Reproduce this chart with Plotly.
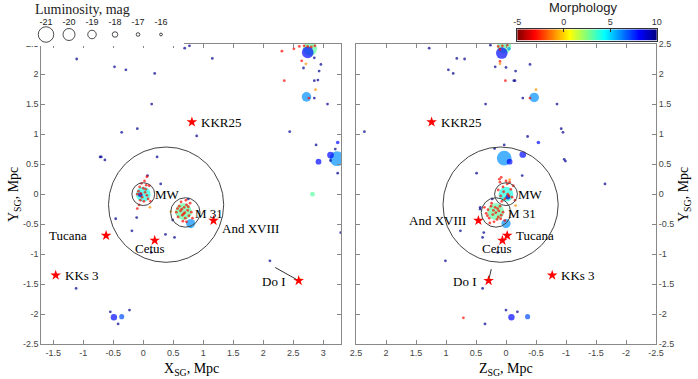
import numpy as np
import plotly.graph_objects as go

# ---------------- data (Mpc, supergalactic) ----------------
# bright galaxies, X-Y projection
xy_bright_x = [0.00, -0.05, 0.67, 0.79, 2.78, 2.74, 2.72, 3.23, 3.12, 2.92, 3.24, 2.82, -0.49, -0.36]
xy_bright_y = [0.00, -0.01, -0.29, -0.49, 2.42, 2.36, 1.62, 0.59, 0.65, 0.54, 0.86, 0.00, -2.05, -2.04]
xy_bright_mag = [-20.8, -17.6, -21.5, -19.2, -20.6, -19.9, -19.3, -20.8, -18.4, -18.1, -17.0, -17.6, -18.3, -17.8]
xy_bright_morph = [4, 9, 3, 6, 3, 8, 6, 6, 8, 8, 8, 3, 8, 7]

# bright galaxies, Z-Y projection
zy_bright_z = [0.00, -0.03, 0.17, 0.00, 0.03, 0.07, -0.05, -0.47, 0.03, -0.06, -0.28, -0.54, -0.09, -0.36]
zy_bright_y = [0.00, -0.05, -0.29, -0.49, 2.46, 2.35, 2.42, 1.61, 0.60, 0.54, 0.66, 0.86, -2.05, -2.04]
zy_bright_mag = [-20.8, -17.6, -21.5, -19.2, -20.6, -19.9, -16.8, -19.3, -20.8, -18.1, -18.4, -17.0, -18.3, -17.8]
zy_bright_morph = [4, 9, 3, 6, 3, 8, 6, 6, 6, 8, 8, 8, 8, 7]

# faint dwarfs: irregulars (blue), spheroidals (red), transition (orange)
DWARF_MAG = -12
IRR_T, SPH_T, TR_T = 9.8, -3, -1

xy_irr_x = [-1.11, -0.48, -0.29, 0.19, 0.69, 0.77, 1.15, 0.14, -0.36, -0.10, 0.89, -0.72, -0.70,
            -0.64, 0.23, 0.07, 0.29, -0.46, -0.11, -0.19, 0.37, 0.52, 0.13, 0.75, 0.49, -1.12,
            -0.55, -0.23, -0.42, 2.11, 2.44, 2.88, 3.20, 3.24, 3.29, 3.07, 2.85, 2.85, 2.91,
            2.93, 2.96, 2.67, 2.85, 3.12]
xy_irr_y = [2.25, 2.12, 2.07, 2.01, 2.43, 2.47, 2.26, 1.50, 1.03, 1.09, 0.97, 0.62, 0.62,
            0.57, 0.62, 0.31, 0.17, -0.41, -0.39, -0.61, -0.67, -0.72, -0.97, -0.08, -0.43, -1.57,
            -1.96, -1.93, -2.16, -1.11, 1.04, 0.82, 0.75, 0.35, -0.64, 1.50, 1.60, 1.89, 1.90,
            2.05, 2.16, 2.10, 2.27, 0.56]
xy_sph_x = [2.31, 2.51, 2.60, 2.68, 2.74, 2.80, 2.86, 2.64, 2.35, 2.76,
            -0.06, -0.03, 0.02, 0.05, -0.08, 0.04, -0.02, 0.06, -0.05, 0.01, 0.08, -0.10,
            0.03, -0.04, 0.10, -0.07, 0.12, -0.10, 0.06, 0.00,
            0.60, 0.62, 0.65, 0.68, 0.72, 0.74, 0.76, 0.70, 0.66, 0.58, 0.55, 0.80, 0.78,
            0.63, 0.72, 0.82, 0.69, 0.64, 0.75, 0.57, 0.67, 0.71]
xy_sph_y = [2.38, 2.42, 2.46, 2.47, 2.46, 2.45, 2.47, 2.22, 1.89, 1.60,
            0.12, 0.18, 0.22, 0.15, 0.05, 0.08, -0.05, -0.02, -0.10, -0.12, -0.08, 0.00,
            0.03, 0.01, 0.14, -0.18, -0.12, -0.24, 0.29, 0.10,
            -0.20, -0.28, -0.35, -0.22, -0.18, -0.27, -0.36, -0.40, -0.45, -0.38, -0.30, -0.30, -0.15,
            -0.13, -0.46, -0.40, -0.31, -0.25, -0.21, -0.24, -0.33, -0.10]
xy_tr_x = [2.71, 2.87, 0.46, 0.11, 2.62]
xy_tr_y = [2.17, 1.74, -0.29, -0.22, -1.42]

zy_irr_z = [1.28, 0.26, 0.82, 0.69, 0.96, 0.88, 0.18, 0.00, -0.16, -0.40, -0.13, -0.15, -0.28,
            0.34, -0.85, 2.36, -0.92, -0.95, -0.36, 0.19, 0.03, -0.97, -0.99, 0.49, -0.27,
            -1.65, 0.43, 0.43, 0.23, 0.76, 0.37, 0.39, 0.14, 1.01, 0.39, 0.00, -0.19, 0.35]
zy_irr_y = [2.43, 2.48, 2.26, 2.25, 2.07, 2.01, 2.12, 2.11, 2.05, 2.16, 1.89, 1.89, 1.60,
            1.50, 1.50, 1.04, 1.09, 1.03, 0.96, 0.76, 0.82, 0.58, 0.55, 0.35, 0.31,
            0.17, -0.22, -0.25, -0.08, -0.61, -0.64, -0.72, -0.97, -1.11, -1.57, -1.93, -1.96, -2.16]
zy_sph_z = [0.10, 0.01, -0.40, 0.71, 0.06, -0.02, 0.10, 0.13,
            0.05, -0.02, 0.10, -0.08, 0.04, -0.05, 0.02, -0.10, 0.07, -0.03, 0.13, -0.12,
            0.00, -0.06, 0.09, -0.15, 0.08, 0.11,
            0.25, 0.30, 0.22, 0.18, 0.12, 0.08, 0.15, 0.28, 0.33, 0.20, 0.10, 0.05, 0.24,
            0.36, 0.13, 0.02, 0.17, 0.27, 0.21, 0.09, 0.31, 0.14]
zy_sph_y = [2.21, 1.89, 1.60, -2.06, 2.47, 2.48, 2.41, 2.46,
            0.12, 0.17, 0.20, 0.08, 0.04, -0.03, -0.08, -0.05, -0.12, 0.00, 0.07, 0.14,
            0.22, 0.20, -0.03, -0.10, 0.28, 0.25,
            -0.20, -0.26, -0.34, -0.22, -0.28, -0.35, -0.42, -0.40, -0.32, -0.46, -0.20, -0.30, -0.15,
            -0.22, -0.38, -0.44, -0.31, -0.48, -0.27, -0.41, -0.36, -0.24]
zy_tr_z = [0.10, -0.50, -0.06, -0.16, 0.28]
zy_tr_y = [2.17, 1.74, 0.24, -0.19, -1.41]

# isolated dwarfs marked with stars (3D: X, Y, Z)
star_names = ["KKR25", "And XVIII", "Tucana", "Cetus", "KKs 3", "Do I"]
star_x = [0.81, 1.17, -0.62, 0.19, -1.46, 2.59]
star_y = [1.20, -0.44, -0.69, -0.77, -1.35, -1.44]
star_z = [1.24, 0.46, -0.02, 0.06, -0.77, 0.29]

# zones: Local Group, MW and M31 spheres
zone_names = ["LG", "MW", "M 31"]
zone_x = [0.38, 0.00, 0.70]
zone_y = [-0.175, 0.00, -0.305]
zone_z = [0.09, 0.00, 0.167]
zone_r = [0.96, 0.19, 0.245]

legend_mags = [-21, -20, -19, -18, -17, -16]
morph_ticks = [-5, 0, 5, 10]

# ---------------- styling ----------------
JET_R = [[0.0, "rgb(128,0,0)"], [0.125, "rgb(255,0,0)"], [0.375, "rgb(255,255,0)"],
         [0.625, "rgb(0,255,255)"], [0.875, "rgb(0,0,255)"], [1.0, "rgb(0,0,128)"]]
SERIF = "Liberation Serif"
SANS = "Liberation Sans"
W, H = 698, 379


def sx(p):                   # screen px -> paper x
    return p / W


def sy(p):                   # screen px -> paper y
    return 1 - p / H


def mag_size(m):
    return np.interp(m, [-22, -21, -20, -19, -18, -17, -16], [18, 15.5, 12, 8.5, 5.5, 3.6, 2.8])


def panel_points(bx, by, bmag, bmorph, ix, iy, sx_, sy_, tx, ty):
    h = np.concatenate([bx, ix, sx_, tx])
    v = np.concatenate([by, iy, sy_, ty])
    mag = np.concatenate([bmag, [DWARF_MAG] * (len(ix) + len(sx_) + len(tx))])
    morph = np.concatenate([bmorph, [IRR_T] * len(ix), [SPH_T] * len(sx_), [TR_T] * len(tx)])
    order = np.argsort(mag, kind="stable")
    return h[order], v[order], mag[order], morph[order]


fig = go.Figure()

panels = [
    ("x", "y", panel_points(xy_bright_x, xy_bright_y, xy_bright_mag, xy_bright_morph,
                            xy_irr_x, xy_irr_y, xy_sph_x, xy_sph_y, xy_tr_x, xy_tr_y), star_x, zone_x),
    ("x2", "y2", panel_points(zy_bright_z, zy_bright_y, zy_bright_mag, zy_bright_morph,
                              zy_irr_z, zy_irr_y, zy_sph_z, zy_sph_y, zy_tr_z, zy_tr_y), star_z, zone_z),
]

shapes = []
for xa, ya, (h, v, mag, morph), sh, zh in panels:
    fig.add_trace(go.Scatter(x=h, y=v, xaxis=xa, yaxis=ya, mode="markers", hoverinfo="skip",
                             marker=dict(size=mag_size(mag), color=morph, colorscale=JET_R,
                                         cmin=-5, cmax=10, line_width=0)))
    fig.add_trace(go.Scatter(x=sh, y=star_y, xaxis=xa, yaxis=ya, mode="markers",
                             marker=dict(symbol="star", size=8, color="red", line_width=0)))
    for cx, cy, r in zip(zh, zone_y, zone_r):
        shapes.append(dict(type="circle", xref=xa, yref=ya, x0=cx - r, x1=cx + r,
                           y0=cy - r, y1=cy + r, line=dict(color="#444", width=1)))

# label placement (anchor, xshift, yshift in px)
left_lab = {"KKR25": ("left", 7, 0), "And XVIII": ("left", 6, -8), "Tucana": ("right", -17, 0),
            "Cetus": ("center", -5, -8), "KKs 3": ("left", 7, 0), "Do I": ("right", -12, -1),
            "MW": ("left", 10, 0), "M 31": ("left", 8, -1)}
right_lab = {"KKR25": ("left", 7, 0), "And XVIII": ("right", -10, 0), "Tucana": ("left", 7, 0),
             "Cetus": ("center", -5, -8), "KKs 3": ("left", 7, 0), "Do I": ("right", -11, -1),
             "MW": ("left", 10, 0), "M 31": ("left", 10, -1)}

ann = []
for xa, ya, sh, zh, lab, arrow in [("x", "y", star_x, zone_x, left_lab, (-25, -14)),
                                   ("x2", "y2", star_z, zone_z, right_lab, (3, -13))]:
    pts = list(zip(star_names, sh, star_y)) + list(zip(zone_names[1:], zh[1:], zone_y[1:]))
    for name, px, py in pts:
        anc, dx, dy = lab[name]
        ann.append(dict(x=px, y=py, xref=xa, yref=ya, text=name, showarrow=False,
                        xanchor=anc, yanchor="middle", xshift=dx, yshift=dy,
                        font=dict(family=SERIF, size=13, color="black")))
    i = star_names.index("Do I")
    ann.append(dict(x=sh[i], y=star_y[i], xref=xa, yref=ya, text="", showarrow=True,
                    ax=arrow[0], ay=arrow[1], arrowhead=0, arrowwidth=1, arrowcolor="#333",
                    standoff=3))

# luminosity legend
fig.add_trace(go.Scatter(x=legend_mags, y=[0] * len(legend_mags), xaxis="x3", yaxis="y3",
                         mode="markers", marker=dict(symbol="circle-open", size=mag_size(np.array(legend_mags)),
                                                     color="black", line=dict(width=1))))
fig.add_trace(go.Scatter(x=legend_mags, y=[1] * len(legend_mags), xaxis="x3", yaxis="y3",
                         mode="text", text=[str(m) for m in legend_mags],
                         textfont=dict(family=SANS, size=9, color="#222")))

# morphology colour bar
cb = np.linspace(-5, 10, 300)
fig.add_trace(go.Heatmap(z=[cb], x=cb, y=[0], xaxis="x4", yaxis="y4", colorscale=JET_R,
                         zmin=-5, zmax=10, showscale=False, hoverinfo="skip"))

title_font = dict(family=SERIF, size=14, color="black")
ann += [
    dict(x=sx(82), y=sy(9), xref="paper", yref="paper", text="Luminosity, mag", showarrow=False,
         xanchor="center", yanchor="middle", font=dict(family=SERIF, size=14, color="#222")),
    dict(x=sx(583), y=sy(8), xref="paper", yref="paper", text="Morphology", showarrow=False,
         xanchor="center", yanchor="middle", font=dict(family=SANS, size=13, color="#222")),
    dict(x=sx(191), y=sy(369), xref="paper", yref="paper", text="X<sub>SG</sub>, Mpc",
         xanchor="center", yanchor="middle", showarrow=False, font=title_font),
    dict(x=sx(506), y=sy(369), xref="paper", yref="paper", text="Z<sub>SG</sub>, Mpc",
         xanchor="center", yanchor="middle", showarrow=False, font=title_font),
    dict(x=sx(14), y=sy(195), xref="paper", yref="paper", text="Y<sub>SG</sub>, Mpc",
         xanchor="center", yanchor="middle", textangle=-90, showarrow=False, font=title_font),
    dict(x=sx(684), y=sy(195), xref="paper", yref="paper", text="Y<sub>SG</sub>, Mpc",
         xanchor="center", yanchor="middle", textangle=-90, showarrow=False, font=title_font),
]


def fmt(v):
    return "%g" % v


ax_style = dict(showgrid=False, zeroline=False, showline=True, linecolor="#888", linewidth=1,
                mirror="ticks", ticks="inside", ticklen=4, tickcolor="#888", automargin=False,
                tickfont=dict(family=SANS, size=9, color="#444"))
yt = list(np.arange(-2.5, 2.51, 0.5))
xt1 = list(np.arange(-1.5, 3.01, 0.5))
xt2 = list(np.arange(2.5, -2.51, -0.5))
ydom = [sy(344.3), sy(44)]
hidden = dict(visible=False, showgrid=False, zeroline=False, fixedrange=True)

fig.update_layout(
    width=W, height=H, margin=dict(l=0, r=0, t=0, b=0), showlegend=False,
    paper_bgcolor="white", plot_bgcolor="white",
    xaxis=dict(domain=[sx(41.3), sx(341.3)], range=[-1.7, 3.3], anchor="y",
               tickvals=xt1, ticktext=[fmt(v) for v in xt1], **ax_style),
    yaxis=dict(domain=ydom, range=[-2.5, 2.5], anchor="x",
               tickvals=yt, ticktext=[fmt(v) for v in yt], **ax_style),
    xaxis2=dict(domain=[sx(356), sx(656)], range=[2.5, -2.5], anchor="y2",
                tickvals=xt2, ticktext=[fmt(v) for v in xt2], **ax_style),
    yaxis2=dict(domain=ydom, range=[-2.5, 2.5], anchor="x2", side="right",
                tickvals=yt, ticktext=[fmt(v) for v in yt], **ax_style),
    xaxis3=dict(domain=[sx(23), sx(184)], range=[-22, -15], anchor="y3", **hidden),
    yaxis3=dict(domain=[sy(46), sy(11.5)], range=[-1, 2], anchor="x3", **hidden),
    xaxis4=dict(domain=[sx(517.3), sx(656.7)], range=[-5, 10], anchor="y4", side="top",
                tickvals=morph_ticks, ticktext=[str(t) for t in morph_ticks], ticks="inside",
                ticklen=3, tickcolor="#333", showline=True, mirror=True, linecolor="#333",
                showgrid=False, zeroline=False, automargin=False,
                tickfont=dict(family=SANS, size=9, color="#333")),
    yaxis4=dict(domain=[sy(40.7), sy(29.3)], range=[-0.5, 0.5], anchor="x4",
                showticklabels=False, ticks="", showline=True, mirror=True, linecolor="#333",
                showgrid=False, zeroline=False),
    shapes=shapes, annotations=ann,
)

# the page body has a default 8px margin; drop it so the figure sits at the window corner
fig.write_html("out.html", config={"displayModeBar": False},
               post_script="document.body.style.margin='0';")
